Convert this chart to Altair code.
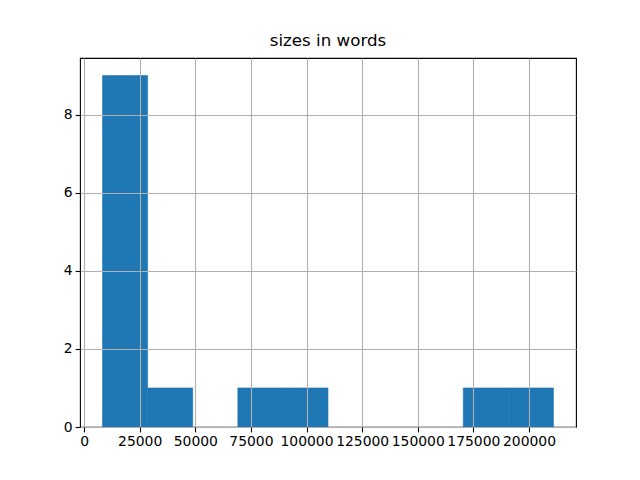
import altair as alt
import pandas as pd

# Histogram of sizes in words (10 bins)
bin_edges = [8300, 28570, 48840, 69110, 89380, 109650, 129920, 150190, 170460, 190730, 211000]
counts = [9, 1, 0, 1, 1, 0, 0, 0, 1, 1]
x_ticks = [0, 25000, 50000, 75000, 100000, 125000, 150000, 175000, 200000]
y_ticks = [0, 2, 4, 6, 8]

df = pd.DataFrame({
    "start": bin_edges[:-1],
    "end": bin_edges[1:],
    "count": counts,
})
df = df[df["count"] > 0]

rng = bin_edges[-1] - bin_edges[0]
x_dom = [bin_edges[0] - 0.05 * rng, bin_edges[-1] + 0.05 * rng]
y_dom = [0, max(counts) * 1.05]

chart = alt.Chart(df).mark_rect(color="#1f77b4", stroke="#1f77b4", strokeWidth=0.6).encode(
    x=alt.X("start:Q", scale=alt.Scale(domain=x_dom, nice=False, zero=False, padding=0),
            axis=alt.Axis(values=x_ticks, format="d", title=None, zindex=1)),
    x2="end:Q",
    y=alt.Y("count:Q", scale=alt.Scale(domain=y_dom, nice=False, padding=0),
            axis=alt.Axis(values=y_ticks, format="d", title=None, zindex=1)),
    y2=alt.datum(0),
).properties(
    width=496, height=369,
    background="white",
    title=alt.TitleParams("sizes in words", fontSize=16.7, font="DejaVu Sans",
                          fontWeight="normal", color="black", anchor="middle",
                          offset=8, frame="group"),
    autosize=alt.AutoSizeParams(type="none"),
    padding={"left": 72, "top": 50, "right": 50, "bottom": 40},
).configure_axis(
    labelFont="DejaVu Sans", labelFontSize=13.9, labelColor="black",
    tickColor="black", tickSize=4.9, tickWidth=1.1, labelPadding=3,
    grid=True, gridColor="#b0b0b0", gridWidth=1.1, domain=False,
).configure_view(
    stroke="black", strokeWidth=1.1,
)

chart.save("out.html", embed_options={"renderer": "svg", "actions": False})
